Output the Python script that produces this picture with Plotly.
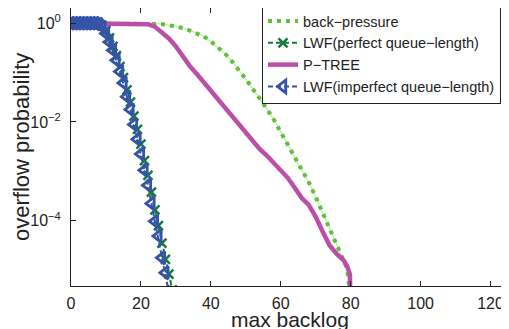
import plotly.graph_objects as go

# ---- data ----
bp_x = [0, 2, 4, 6, 8, 10, 12, 14, 16, 18, 20, 22, 24, 26, 28, 30, 32, 34, 36, 38, 40,
        42, 44, 46, 48, 50, 52, 54, 56, 58, 60, 62, 64, 66, 68, 70, 72, 74, 76, 78, 79, 80]
bp_y = [1.0, 1.0, 1.0, 1.0, 1.0, 1.0, 1.0, 1.0, 1.0, 1.0, 1.0, 0.989, 0.977, 0.955, 0.912,
        0.871, 0.794, 0.708, 0.631, 0.537, 0.427, 0.316, 0.245, 0.170, 0.115, 0.0741,
        0.0468, 0.0302, 0.0186, 0.0112, 6.31e-3, 3.55e-3, 1.86e-3, 1.05e-3, 6.03e-4,
        3.02e-4, 1.41e-4, 7.08e-5, 3.31e-5, 1.58e-5, 1.07e-5, 2.5e-6]

lwf_p_x = list(range(0, 30))
lwf_p_y = [1.0, 1.0, 1.0, 1.0, 1.0, 1.0, 1.0, 1.0, 0.977, 0.871, 0.708, 0.501, 0.339,
           0.219, 0.132, 0.0794, 0.0447, 0.0251, 0.0132, 7.08e-3, 3.55e-3, 1.66e-3,
           8.32e-4, 3.80e-4, 1.66e-4, 7.94e-5, 3.55e-5, 1.66e-5, 8.32e-6, 3.98e-6]

pt_x = [0, 2, 4, 6, 8, 10, 12, 14, 16, 18, 20, 22, 24, 26, 28, 30, 32, 34, 36, 38, 40,
        42, 44, 46, 48, 50, 52, 54, 56, 58, 60, 62, 64, 66, 68, 70, 72, 74, 76, 78, 79,
        79.8, 80]
pt_y = [1.0, 1.0, 1.0, 1.0, 1.0, 1.0, 1.0, 1.0, 1.0, 1.0, 1.0, 0.955, 0.851, 0.661,
        0.490, 0.339, 0.214, 0.135, 0.0933, 0.0631, 0.0427, 0.0295, 0.0195, 0.0135,
        8.91e-3, 6.03e-3, 4.07e-3, 2.82e-3, 2.09e-3, 1.51e-3, 1.05e-3, 7.41e-4, 4.68e-4,
        2.88e-4, 2.09e-4, 1.20e-4, 6.03e-5, 3.16e-5, 2.14e-5, 1.58e-5, 1.20e-5, 8.13e-6,
        3e-7]

lwf_i_x = list(range(0, 29))
lwf_i_y = [1.0, 1.0, 1.0, 1.0, 1.0, 1.0, 1.0, 1.0, 0.955, 0.832, 0.617, 0.417, 0.282,
           0.178, 0.105, 0.0617, 0.0324, 0.0178, 8.91e-3, 4.47e-3, 2.24e-3, 1.05e-3,
           5.25e-4, 2.24e-4, 9.77e-5, 4.90e-5, 1.78e-5, 8.91e-6, 3.5e-6]

x_ticks = [0, 20, 40, 60, 80, 100, 120]
y_ticks = [1, 1e-2, 1e-4]
y_ticktext = ["10<sup>0</sup>", "10<sup>\u22122</sup>", "10<sup>\u22124</sup>"]

names = ["back\u2212pressure", "LWF(perfect queue\u2212length)", "P\u2212TREE",
         "LWF(imperfect queue\u2212length)"]

FONT = "Liberation Sans, Arial, sans-serif"

# page body has an 8px margin, so the figure is sized to end at the window edge
W, H = 501, 321
L, R, T, B = 63, 1, 0, 43
PW = W - L - R
PH = H - T - B

fig = go.Figure()
# faint connecting line under the dotted back-pressure curve
fig.add_trace(go.Scatter(x=bp_x, y=bp_y, mode="lines", showlegend=False, hoverinfo="skip",
                         line=dict(color="#bfe6ad", width=1.2)))
fig.add_trace(go.Scatter(x=bp_x, y=bp_y, mode="lines", name=names[0],
                         line=dict(color="#5fc13a", width=4, dash="4px,5px")))
fig.add_trace(go.Scatter(x=lwf_p_x, y=lwf_p_y, mode="lines+markers", name=names[1],
                         line=dict(color="#147a3c", width=2, dash="5px,3px"),
                         marker=dict(symbol="x-thin", size=9, color="#147a3c",
                                     line=dict(color="#147a3c", width=2.5))))
fig.add_trace(go.Scatter(x=pt_x, y=pt_y, mode="lines", name=names[2],
                         line=dict(color="#bb4fa8", width=4.5)))
fig.add_trace(go.Scatter(x=lwf_i_x, y=lwf_i_y, mode="lines+markers", name=names[3],
                         line=dict(color="#3553a8", width=2, dash="5px,3px"),
                         marker=dict(symbol="triangle-left-open", size=11, color="#3553a8",
                                     line=dict(color="#3553a8", width=2.8))))

axis_common = dict(showline=True, linecolor="#222", linewidth=1, mirror="ticks",
                   ticks="inside", ticklen=5, tickcolor="#222", showgrid=False,
                   zeroline=False, tickfont=dict(family=FONT, size=16, color="#222"))

fig.update_xaxes(range=[0, 125], tickvals=x_ticks, ticklabelstandoff=3, **axis_common)
fig.update_yaxes(type="log", range=[-5.32, 0.307], tickvals=y_ticks, ticktext=y_ticktext,
                 ticklabelstandoff=6, **axis_common)

fig.update_layout(
    width=W, height=H,
    margin=dict(l=L, r=R, t=T, b=B, pad=0, autoexpand=False),
    paper_bgcolor="white", plot_bgcolor="white",
    font=dict(family=FONT, color="#222"),
    showlegend=True,
    legend=dict(x=(254 - L) / PW, y=1.0 + 4 / PH, xanchor="left", yanchor="top",
                bgcolor="white", bordercolor="#222", borderwidth=1,
                font=dict(family=FONT, size=14.5, color="#222"),
                tracegroupgap=0, itemwidth=30),
    annotations=[
        dict(text="max backlog", xref="paper", yref="paper", x=0.5,
             y=-(311 - 278) / PH, xanchor="center", yanchor="middle", showarrow=False,
             font=dict(family=FONT, size=21, color="#222")),
        dict(text="overflow probability", xref="paper", yref="paper",
             x=(13 - L) / PW, y=0.5, xanchor="center", yanchor="middle",
             textangle=-90, showarrow=False,
             font=dict(family=FONT, size=22, color="#222")),
    ],
)

fig.write_html("out.html")
